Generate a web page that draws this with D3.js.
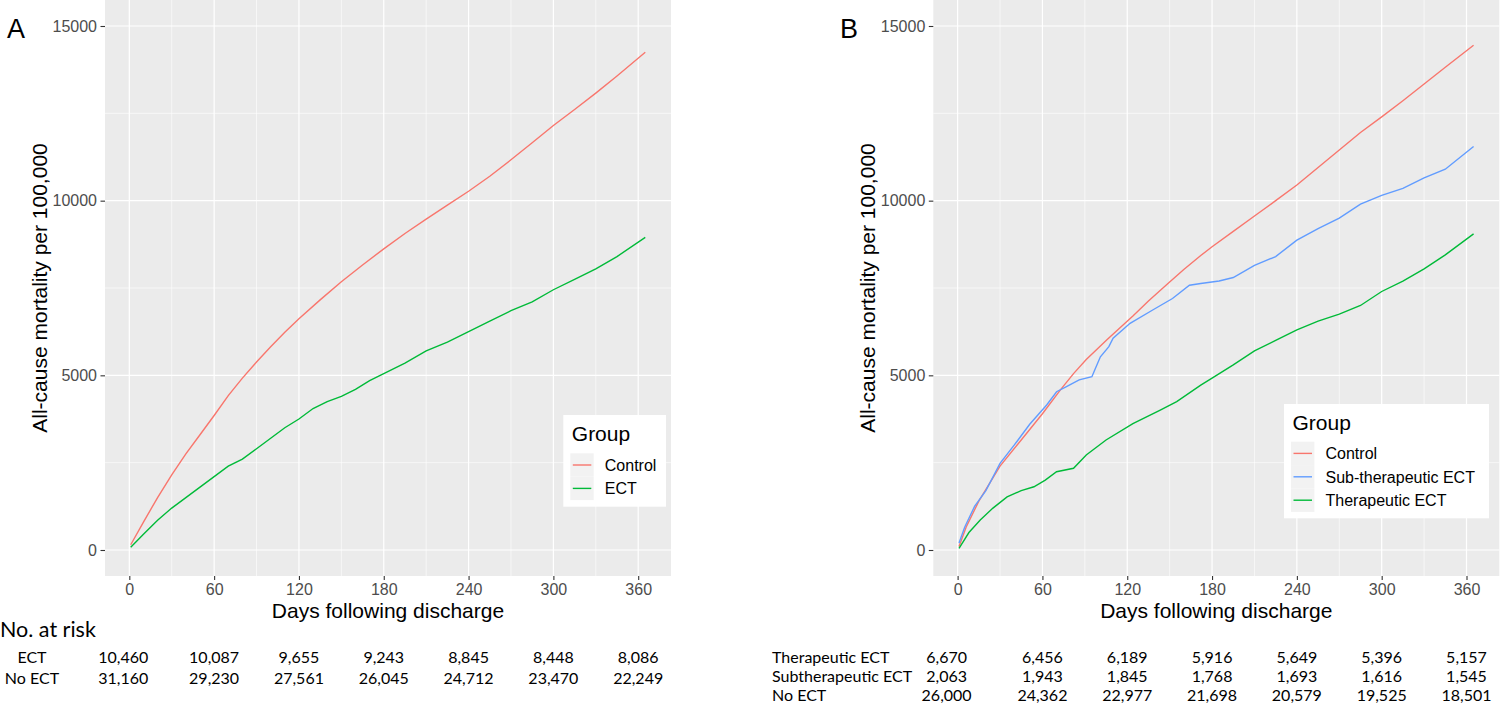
<!DOCTYPE html>
<html>
<head>
<meta charset="utf-8">
<script src="https://cdn.jsdelivr.net/npm/d3@7"></script>
<style>
  body { margin: 0; background: #fff; }
  svg text { font-family: "Liberation Sans", Arial, sans-serif; }
  .risk text { font-family: Lato, "Liberation Sans", sans-serif; }
</style>
</head>
<body>
<svg id="chart" width="1500" height="707"></svg>
<script>
// ---- data (day, mortality per 100,000) ----
var xBreaks = [0, 60, 120, 180, 240, 300, 360];
var xMinor = [30, 90, 150, 210, 270, 330];
var yBreaks = [0, 5000, 10000, 15000];
var yMinor = [2500, 7500, 12500];

var controlA = [[1,150],[10,800],[20,1500],[30,2150],[40,2750],[50,3300],[60,3850],[70,4420],[80,4920],[90,5380],
  [100,5820],[110,6230],[120,6620],[135,7160],[150,7680],[165,8160],[180,8620],[195,9060],[210,9470],[225,9870],
  [240,10270],[255,10700],[270,11170],[285,11660],[300,12150],[315,12610],[330,13080],[345,13570],[365,14250]];
var ectA = [[1,80],[10,450],[20,850],[30,1200],[40,1500],[50,1800],[60,2100],[70,2400],[80,2600],[90,2900],
  [100,3200],[110,3500],[120,3750],[130,4050],[140,4250],[150,4400],[160,4600],[170,4850],[180,5050],[195,5350],
  [210,5700],[225,5950],[240,6250],[255,6550],[270,6850],[285,7100],[300,7450],[315,7750],[330,8050],[345,8400],[365,8950]];

var controlB = [[1,100],[6,650],[15,1400],[30,2400],[45,3150],[54,3600],[60,3900],[73,4600],[82,5050],[91,5450],
  [106,6030],[124,6700],[135,7130],[148,7600],[160,8030],[172,8430],[180,8680],[195,9120],[210,9560],[225,10000],
  [240,10450],[255,10950],[270,11450],[285,11950],[300,12400],[315,12860],[330,13340],[345,13820],[365,14450]];
var subB = [[1,200],[5,650],[12,1250],[20,1700],[30,2480],[40,3000],[51,3600],[63,4150],[70,4530],[77,4680],
  [86,4870],[95,4960],[97,5150],[101,5530],[107,5820],[110,6060],[122,6490],[138,6870],[152,7200],[164,7580],
  [172,7630],[185,7700],[195,7800],[210,8150],[225,8400],[240,8870],[255,9200],[270,9500],[285,9900],[300,10150],
  [315,10350],[330,10650],[345,10900],[365,11550]];
var therB = [[1,50],[8,500],[16,860],[25,1200],[35,1520],[45,1700],[54,1810],[62,2000],[70,2240],[82,2340],
  [91,2720],[105,3150],[124,3620],[143,4000],[155,4250],[172,4720],[180,4920],[195,5300],[210,5700],[225,6000],
  [240,6300],[255,6550],[270,6750],[285,7000],[300,7400],[315,7700],[330,8050],[345,8450],[365,9050]];

// numbers at risk
var riskRowsA = ["ECT", "No ECT"];
var riskA = [
  ["10,460","10,087","9,655","9,243","8,845","8,448","8,086"],
  ["31,160","29,230","27,561","26,045","24,712","23,470","22,249"]];
var riskRowsB = ["Therapeutic ECT", "Subtherapeutic ECT", "No ECT"];
var riskB = [
  ["6,670","6,456","6,189","5,916","5,649","5,396","5,157"],
  ["2,063","1,943","1,845","1,768","1,693","1,616","1,545"],
  ["26,000","24,362","22,977","21,698","20,579","19,525","18,501"]];

var red = "#F8766D", green = "#00BA38", blue = "#619CFF";

var svg = d3.select("#chart");

// one ggplot-style panel
function drawPanel(opt) {
  var pw = 566, ph = 576;
  var x = d3.scaleLinear().domain([-17.2, 383.2]).range([opt.left, opt.left + pw]);
  var y = d3.scaleLinear().domain([0, 15000]).range([550, 26]);
  var g = svg.append("g");

  g.append("rect")
    .attr("x", opt.left).attr("y", 0)
    .attr("width", pw).attr("height", ph)
    .attr("fill", "#EBEBEB");

  // minor grid
  g.selectAll(".vminor").data(xMinor).enter().append("line")
    .attr("x1", x).attr("x2", x).attr("y1", 0).attr("y2", ph)
    .attr("stroke", "#fff").attr("stroke-width", 0.6);
  g.selectAll(".hminor").data(yMinor).enter().append("line")
    .attr("x1", opt.left).attr("x2", opt.left + pw).attr("y1", y).attr("y2", y)
    .attr("stroke", "#fff").attr("stroke-width", 0.6);
  // major grid
  g.selectAll(".vmajor").data(xBreaks).enter().append("line")
    .attr("x1", x).attr("x2", x).attr("y1", 0).attr("y2", ph)
    .attr("stroke", "#fff").attr("stroke-width", 1.2);
  g.selectAll(".hmajor").data(yBreaks).enter().append("line")
    .attr("x1", opt.left).attr("x2", opt.left + pw).attr("y1", y).attr("y2", y)
    .attr("stroke", "#fff").attr("stroke-width", 1.2);

  // curves
  var line = d3.line()
    .x(function(d) { return x(d[0]); })
    .y(function(d) { return y(d[1]); });
  opt.series.forEach(function(s) {
    g.append("path")
      .datum(s.values)
      .attr("fill", "none")
      .attr("stroke", s.color)
      .attr("stroke-width", 1.4)
      .attr("d", line);
  });

  // axes
  var xAxis = g.append("g")
    .attr("transform", "translate(0," + ph + ")")
    .call(d3.axisBottom(x).tickValues(xBreaks).tickSize(4).tickPadding(3.6));
  var yAxis = g.append("g")
    .attr("transform", "translate(" + opt.left + ",0)")
    .call(d3.axisLeft(y).tickValues(yBreaks).tickFormat(d3.format("d")).tickSize(4.5).tickPadding(3.5));
  [xAxis, yAxis].forEach(function(a) {
    a.select(".domain").remove();
    a.selectAll(".tick line").attr("stroke", "#333333").attr("stroke-width", 1.1);
    a.selectAll(".tick text")
      .attr("fill", "#4D4D4D")
      .attr("font-size", 16)
      .attr("font-family", "'Liberation Sans', Arial, sans-serif");
  });

  // axis titles
  g.append("text")
    .attr("x", opt.left + pw / 2).attr("y", 618)
    .attr("text-anchor", "middle")
    .attr("font-size", 21)
    .text("Days following discharge");
  g.append("text")
    .attr("transform", "translate(" + (opt.left - 58) + "," + (ph / 2) + ") rotate(-90)")
    .attr("text-anchor", "middle")
    .attr("font-size", 21)
    .text("All-cause mortality per 100,000");

  // panel letter
  svg.append("text")
    .attr("x", opt.letterX).attr("y", 38.3)
    .attr("font-size", 27)
    .text(opt.letter);

  // legend
  var L = opt.legend;
  var lg = svg.append("g");
  lg.append("rect")
    .attr("x", L.x).attr("y", L.y).attr("width", L.w).attr("height", L.h)
    .attr("fill", "#fff");
  lg.append("text")
    .attr("x", L.x + 8.5).attr("y", L.y + 26)
    .attr("font-size", 21)
    .text("Group");
  var keyH = 23.4;
  var items = lg.selectAll(".item").data(opt.series).enter().append("g")
    .attr("transform", function(d, i) { return "translate(" + (L.x + 7) + "," + (L.y + L.keyTop + i * keyH) + ")"; });
  items.append("rect")
    .attr("width", 23.4).attr("height", keyH)
    .attr("fill", "#F2F2F2");
  items.append("line")
    .attr("x1", 2.5).attr("x2", 21).attr("y1", keyH / 2).attr("y2", keyH / 2)
    .attr("stroke", function(d) { return d.color; })
    .attr("stroke-width", 1.4);
  items.append("text")
    .attr("x", 34.5).attr("y", keyH / 2 + 5.8)
    .attr("font-size", 16)
    .text(function(d) { return d.name; });

  return x;
}

var xA = drawPanel({
  left: 105, letter: "A", letterX: 7,
  series: [{name: "Control", color: red, values: controlA},
           {name: "ECT", color: green, values: ectA}],
  legend: {x: 563.3, y: 415, w: 102.7, h: 91.7, keyTop: 38.3}
});
var xB = drawPanel({
  left: 933.3, letter: "B", letterX: 840,
  series: [{name: "Control", color: red, values: controlB},
           {name: "Sub-therapeutic ECT", color: blue, values: subB},
           {name: "Therapeutic ECT", color: green, values: therB}],
  legend: {x: 1284, y: 404, w: 205, h: 114.3, keyTop: 37.7}
});

// ---- numbers at risk tables ----
var risk = svg.append("g").attr("class", "risk");
risk.append("text")
  .attr("x", 0).attr("y", 637)
  .attr("font-size", 21.5)
  .text("No. at risk");

function drawRisk(x, rows, vals, labelX, anchor, baselines, firstShift) {
  rows.forEach(function(r, i) {
    risk.append("text")
      .attr("x", labelX).attr("y", baselines[i])
      .attr("text-anchor", anchor)
      .attr("font-size", 16)
      .text(r);
    risk.selectAll(null).data(vals[i]).enter().append("text")
      .attr("x", function(d, j) { return x(xBreaks[j]) + (j === 0 ? firstShift : 0); })
      .attr("y", baselines[i])
      .attr("text-anchor", "middle")
      .attr("font-size", 16)
      .text(function(d) { return d; });
  });
}
drawRisk(xA, riskRowsA, riskA, 32, "middle", [663.3, 684], -6);
drawRisk(xB, riskRowsB, riskB, 772, "start", [662.7, 681.7, 701], -11);
</script>
</body>
</html>
